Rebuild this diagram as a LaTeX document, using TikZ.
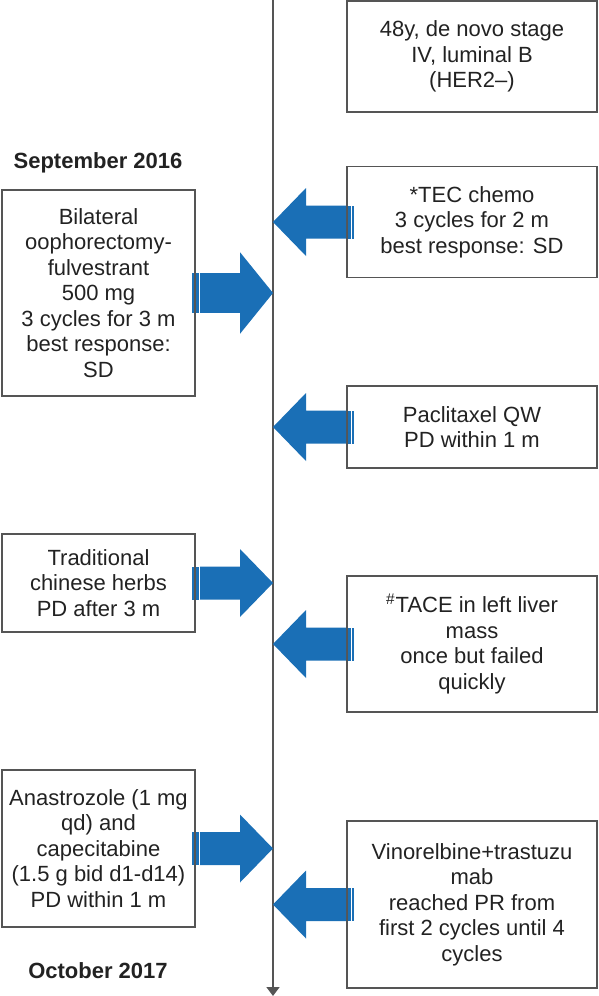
\documentclass[tikz,border=0pt]{standalone}
\usepackage{fontspec}
\setmainfont{Liberation Sans}
\usetikzlibrary{arrows.meta}
\definecolor{arrowblue}{RGB}{26,111,182}
\definecolor{framegray}{RGB}{85,85,85}
\definecolor{textgray}{RGB}{34,34,34}
\tikzset{
  stripedarrow/.pic={
    \fill[arrowblue] (0,0) -- (-33,-34) -- (-33,-16.5) -- (-73,-16.5) -- (-73,16.5) -- (-33,16.5) -- (-33,34) -- cycle;
    \fill[arrowblue] (-74.5,-16.5) rectangle (-77.5,16.5);
    \fill[arrowblue] (-79,-16.5) rectangle (-81,16.5);
  },
  timeline/.style={draw=framegray, line width=0.75pt, -{Triangle[width=6.5pt,length=4.5pt]}},
  box/.style={draw=framegray, line width=0.75pt, align=center, inner sep=0pt, text=textgray, font=\fontsize{11}{12.75}\selectfont},
  datelabel/.style={inner sep=0pt, text=textgray, font=\fontsize{11}{12.75}\selectfont\bfseries}
}

\begin{document}
\begin{tikzpicture}[x=0.5pt, y=-0.5pt]
\useasboundingbox (0,0) rectangle (599,996);
\coordinate (lineTop) at (273,0);
\coordinate (lineEnd) at (273,996);
\draw[timeline] (lineTop) -- (lineEnd);

% right column
\node[box, minimum width=125pt, minimum height=55.5pt] (info) at (472,56.5) {48y, de novo stage\\IV, luminal B\\(HER2--)};
\node[box, minimum width=125pt, minimum height=55.5pt] (tec) at (472,222) {*TEC chemo\\3 cycles for 2 m\\best response: SD};
\node[box, minimum width=125pt, minimum height=41pt] (pacli) at (472,427) {Paclitaxel QW\\PD within 1 m};
\node[box, minimum width=125pt, minimum height=68pt] (tace) at (472,644) {\textsuperscript{\#}TACE in left liver\\mass\\once but failed\\quickly};
\node[box, minimum width=125pt, minimum height=83.5pt] (vino) at (472,904.5) {Vinorelbine+trastuzu\\mab\\reached PR from\\first 2 cycles until 4\\cycles};

% left column
\node[datelabel] (startDate) at (98,163) {September 2016};
\node[box, minimum width=96.5pt, minimum height=103pt] (fulv) at (98.5,293) {Bilateral\\oophorectomy-\\fulvestrant\\500 mg\\3 cycles for 3 m\\best response:\\SD};
\node[box, minimum width=96.5pt, minimum height=49pt] (herbs) at (98.5,583) {Traditional\\chinese herbs\\PD after 3 m};
\node[box, minimum width=96.5pt, minimum height=78.5pt] (anas) at (98.5,848.5) {Anastrozole (1 mg\\qd) and\\capecitabine\\(1.5 g bid d1-d14)\\PD within 1 m};
\node[datelabel] (endDate) at (98,971) {October 2017};

% arrows to the timeline
\pic[xscale=-1] at (lineTop |- tec) {stripedarrow};
\pic[xscale=-1] at (lineTop |- pacli) {stripedarrow};
\pic[xscale=-1] at (lineTop |- tace) {stripedarrow};
\pic[xscale=-1] at (lineTop |- vino) {stripedarrow};
\pic[yscale=1.2] at (lineTop |- fulv) {stripedarrow};
\pic at (lineTop |- herbs) {stripedarrow};
\pic at (lineTop |- anas) {stripedarrow};
\end{tikzpicture}
\end{document}
